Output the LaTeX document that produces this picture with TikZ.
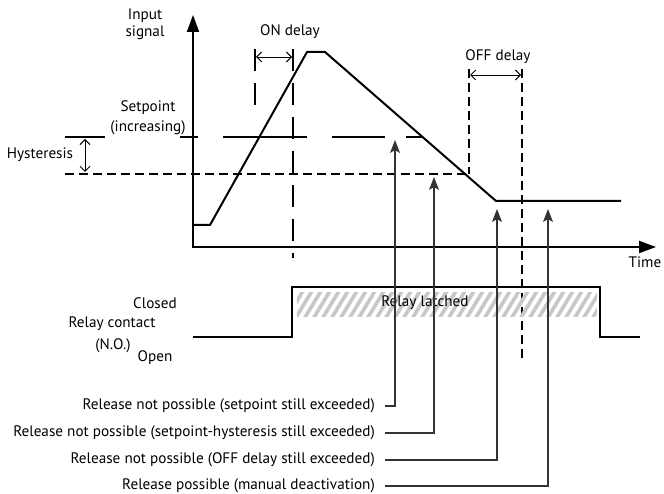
\documentclass[tikz,border=0pt]{standalone}
\usepackage{fontspec}
\setmainfont{PT Sans}
\usetikzlibrary{arrows.meta}
\begin{document}
\begin{tikzpicture}[x=1pt,y=-1pt,
  lbl/.style={font=\fontsize{15.2}{17}\selectfont, inner sep=0pt},
  axis/.style={line width=2pt, {Triangle[length=17pt,width=12pt]}-{Triangle[length=17pt,width=12pt]}},
  thick2/.style={line width=2pt},
  longdash/.style={line width=2pt, dash pattern=on 22pt off 12pt},
  shortdash/.style={line width=2pt, dash pattern=on 9pt off 5pt},
  delayarrow/.style={line width=0.9pt, {Straight Barb[length=5pt,width=10pt]}-{Straight Barb[length=5pt,width=10pt]}},
  pointer/.style={line width=1.1pt, draw=black!80, -{Stealth[length=13pt,width=10pt,inset=3pt]}},
  hatch/.style={line width=3.6pt, draw=black!22}
]
\useasboundingbox (0,0) rectangle (664,494);

% axes
\coordinate (ytop) at (193,15);
\coordinate (orig) at (193,247);
\coordinate (xend) at (656,247);
\draw[axis] (ytop) -- (orig) -- (xend);

% signal
\coordinate (s0) at (193,225);
\coordinate (s1) at (210,225);
\coordinate (s2) at (307,52);
\coordinate (s3) at (325,52);
\coordinate (s4) at (496,201);
\coordinate (s5) at (621,201);
\draw[thick2, line join=miter] (s0) -- (s1) -- (s2) -- (s3) -- (s4) -- (s5);

% setpoint line (long dashes)
\draw[thick2] (65,137) -- (105,137);
\draw[thick2] (180,137) -- (198,137);
\draw[thick2] (223,137) -- (307,137);
\draw[thick2] (332,137) -- (385,137);
\draw[thick2] (406,137) -- (423,137);

% hysteresis line
\coordinate (hl) at (65,174);
\coordinate (hr) at (467,174);
\draw[shortdash] (hl) -- (hr);

% hysteresis arrow
\coordinate (ha) at (85,139);
\coordinate (hb) at (85,172);
\draw[delayarrow] (ha) -- (hb);
\node[lbl] (hyst) at (40,155) {Hysteresis};

% ON delay
\coordinate (on1t) at (255,49);
\coordinate (on1b) at (255,107);
\coordinate (on2t) at (293,49);
\coordinate (on2b) at (293,258);
\draw[longdash] (on1t) -- (on1b);
\draw[longdash] (on2t) -- (on2b);
\coordinate (ona) at (256,57);
\coordinate (onb) at (292,57);
\draw[delayarrow] (ona) -- (onb);
\node[lbl] (ondelay) at (290,32) {ON delay};

% OFF delay
\coordinate (of1t) at (469,69);
\coordinate (of1b) at (469,174);
\coordinate (of2t) at (522,69);
\coordinate (of2b) at (522,360);
\draw[shortdash] (of1t) -- (of1b);
\draw[shortdash] (of2t) -- (of2b);
\coordinate (ofa) at (470,75);
\coordinate (ofb) at (521,75);
\draw[delayarrow] (ofa) -- (ofb);
\node[lbl] (offdelay) at (498,57) {OFF delay};

% texts
\node[lbl] (in1) at (145,16) {Input};
\node[lbl] (in2) at (145,33) {signal};
\node[lbl] (sp1) at (148,108) {Setpoint};
\node[lbl] (sp2) at (148,128) {(increasing)};
\node[lbl] (time) at (645,262) {Time};

% relay
\begin{scope}
\clip (297,293) rectangle (597,317);
\foreach \i in {286,295,...,610} {
  \draw[hatch] (\i,319) -- (\i+17,291);
}
\end{scope}
\coordinate (r0) at (193,337);
\coordinate (r1) at (292,337);
\coordinate (r2) at (292,287);
\coordinate (r3) at (600,287);
\coordinate (r4) at (600,337);
\coordinate (r5) at (640,337);
\draw[thick2, line join=miter] (r0) -- (r1) -- (r2) -- (r3) -- (r4) -- (r5);
\node[lbl] (latched) at (425,303) {Relay latched};
\node[lbl] (closed) at (155,303) {Closed};
\node[lbl] (rc) at (112,324) {Relay contact};
\node[lbl] (no) at (113,346) {(N.O.)};
\node[lbl] (open) at (155,358) {Open};

% pointers
\node[lbl, anchor=east] (L1) at (375,406) {Release not possible (setpoint still exceeded)};
\node[lbl, anchor=east] (L2) at (375,433) {Release not possible (setpoint-hysteresis still exceeded)};
\node[lbl, anchor=east] (L3) at (375,460) {Release not possible (OFF delay still exceeded)};
\node[lbl, anchor=east] (L4) at (375,486) {Release possible (manual deactivation)};
\coordinate (p1) at (395,140);
\coordinate (p2) at (434,177);
\coordinate (p3) at (497,209);
\coordinate (p4) at (548,209);
\draw[pointer] ([xshift=10pt]L1.east) -| (p1);
\draw[pointer] ([xshift=10pt]L2.east) -| (p2);
\draw[pointer] ([xshift=10pt]L3.east) -| (p3);
\draw[pointer] ([xshift=10pt]L4.east) -| (p4);
\end{tikzpicture}
\end{document}
